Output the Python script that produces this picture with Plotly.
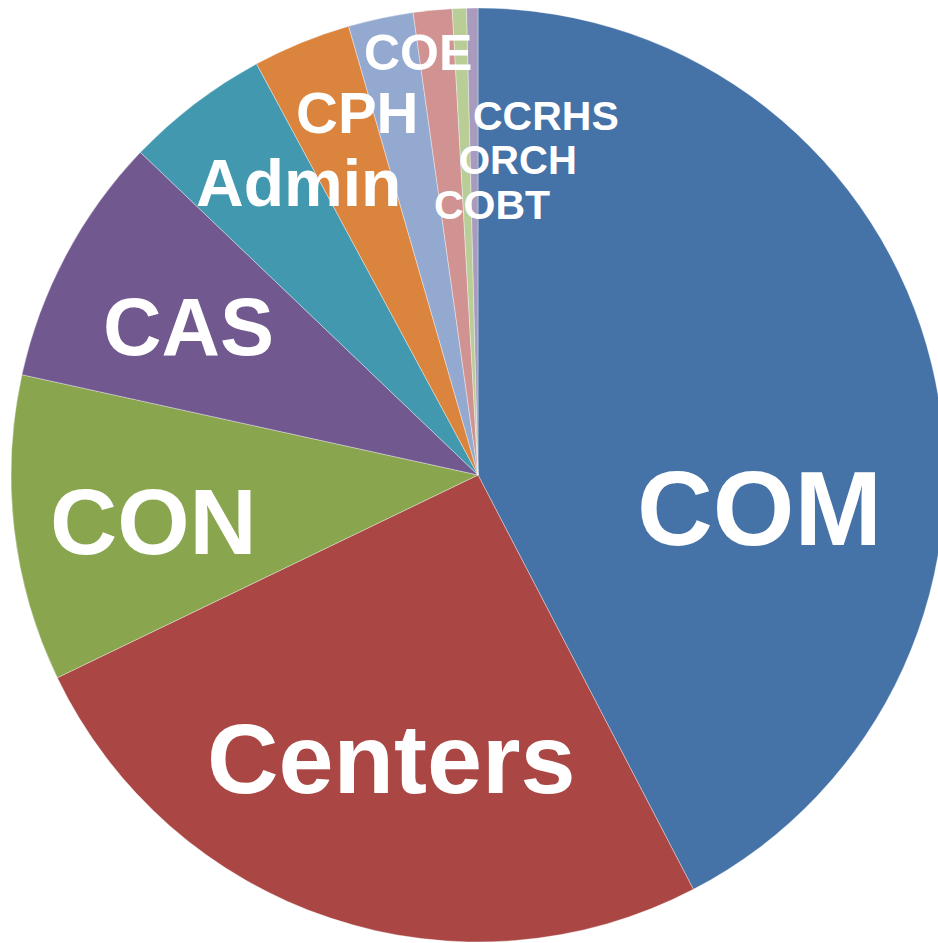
import plotly.graph_objects as go

# Data (share of total, %), clockwise from 12 o'clock
labels = ["COM", "Centers", "CON", "CAS", "Admin", "CPH", "COE", "CCRHS", "ORCH", "COBT"]
values = [42.4, 25.5, 10.6, 8.7, 5.0, 3.4, 2.25, 1.34, 0.49, 0.39]
colors = ["#4572A7", "#AA4643", "#89A54E", "#71588F", "#4198AF",
          "#DB843D", "#93A9CF", "#D19392", "#B9CD96", "#A99BBD"]

# Label placement (screen pixel centres of text) and font sizes
label_px = [(759, 508), (391, 758), (153, 522), (188, 327), (298, 183),
            (357, 113), (418, 53), (546, 116), (518, 160), (492, 205)]
label_size = [105, 99, 93, 81, 66, 58, 50, 41, 40, 41]

# Figure slightly wider than the window so the pie is clipped on the right, as in the reference
W, H = 946, 943
ML, MR, MT, MB = 11, 1, 8, 1
PW, PH = W - ML - MR, H - MT - MB

fig = go.Figure(go.Pie(
    labels=labels,
    values=values,
    sort=False,
    direction="clockwise",
    rotation=0,
    marker=dict(colors=colors, line=dict(color="rgba(255,255,255,0.45)", width=0.8)),
    textinfo="none",
    hoverinfo="label+percent",
    showlegend=False,
))

annotations = []
for lab, (px, py), sz in zip(labels, label_px, label_size):
    annotations.append(dict(
        x=(px - ML) / PW, y=1 - (py - MT) / PH,
        xref="paper", yref="paper",
        text="<b>" + lab + "</b>", showarrow=False,
        xanchor="center", yanchor="middle",
        font=dict(family="Liberation Sans, Arial, sans-serif", size=sz, color="white"),
    ))

fig.update_layout(
    width=W, height=H,
    margin=dict(l=ML, r=MR, t=MT, b=MB),
    paper_bgcolor="white",
    plot_bgcolor="white",
    annotations=annotations,
)

fig.write_html(
    "out.html",
    config={"displayModeBar": False},
    post_script="document.body.style.margin='0';document.body.style.overflow='hidden';"
                "document.documentElement.style.overflow='hidden';",
)
